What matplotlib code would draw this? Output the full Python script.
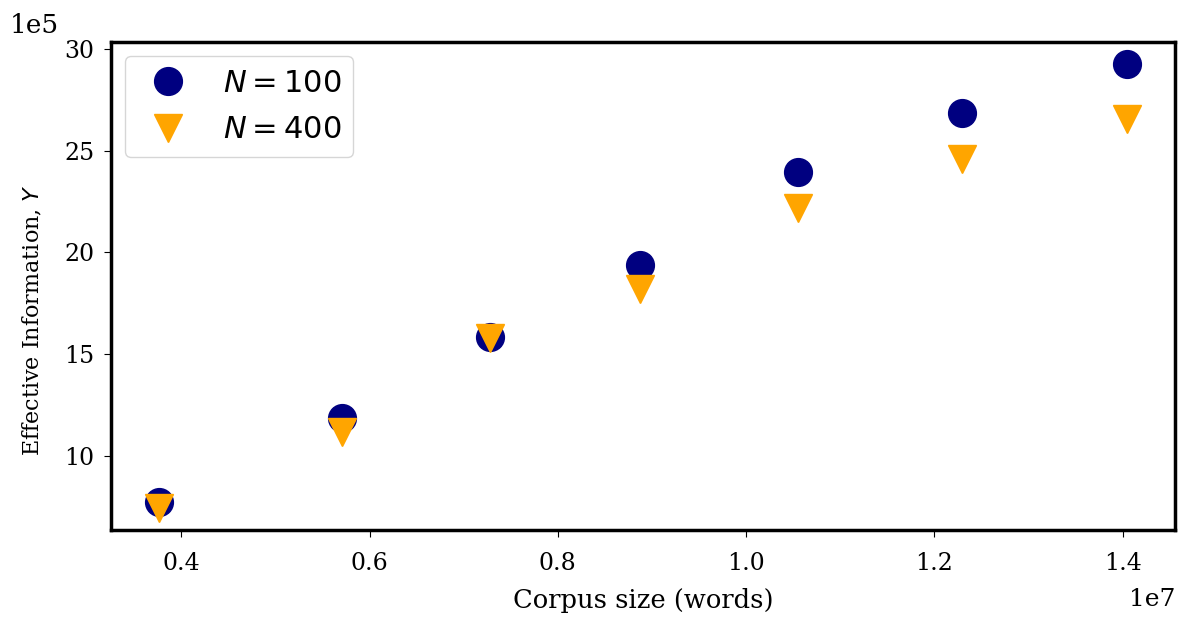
import matplotlib
matplotlib.use("Agg")
import matplotlib.pyplot as plt
from matplotlib.ticker import ScalarFormatter
import numpy as np

# corpus size (words) and effective information
corpus = np.array([0.3767, 0.571, 0.7277, 0.8873, 1.0554, 1.2298, 1.4042]) * 1e7
y_n100 = np.array([7.75, 11.88, 15.84, 19.39, 23.96, 26.85, 29.26]) * 1e5
y_n400 = np.array([7.44, 11.16, 15.8, 18.2, 22.2, 24.6, 26.57]) * 1e5

plt.rcParams['font.family'] = ['DejaVu Serif']
plt.rcParams['mathtext.fontset'] = 'dejavusans'

fig = plt.figure(figsize=(11.82, 6.19), dpi=100)
ax = fig.add_axes([111/1182, 89/619, 1064/1182, 488/619])

ax.plot(corpus, y_n100, 'o', color='navy', ms=20, label=r'$N = 100$')
ax.plot(corpus, y_n400, 'v', color='orange', ms=20, label=r'$N = 400$')

for s in ax.spines.values():
    s.set_linewidth(2.5)

# y axis shown in units of 1e5
yfmt = ScalarFormatter()
yfmt.set_powerlimits((5, 5))
ax.yaxis.set_major_formatter(yfmt)

ax.tick_params(labelsize=17, length=5, pad=7)
ax.tick_params(axis='x', pad=11)
ax.yaxis.get_offset_text().set_fontsize(19)
ax.yaxis.get_offset_text().set_x(-0.095)
ax.yaxis.get_offset_text().set_va('bottom')
ax.xaxis.get_offset_text().set_fontsize(18)
ax.xaxis.OFFSETTEXTPAD = 9
ax.set_xlabel('Corpus size (words)', fontsize=18.5, labelpad=9)
ax.set_ylabel('Effective Information, $Y$', fontsize=16)
ax.yaxis.set_label_coords(-0.063, 0.43)

ax.legend(loc='upper left', fontsize=22, handletextpad=0.8, borderpad=0.4,
          borderaxespad=0.45)

fig.savefig('out.png', dpi=100)
